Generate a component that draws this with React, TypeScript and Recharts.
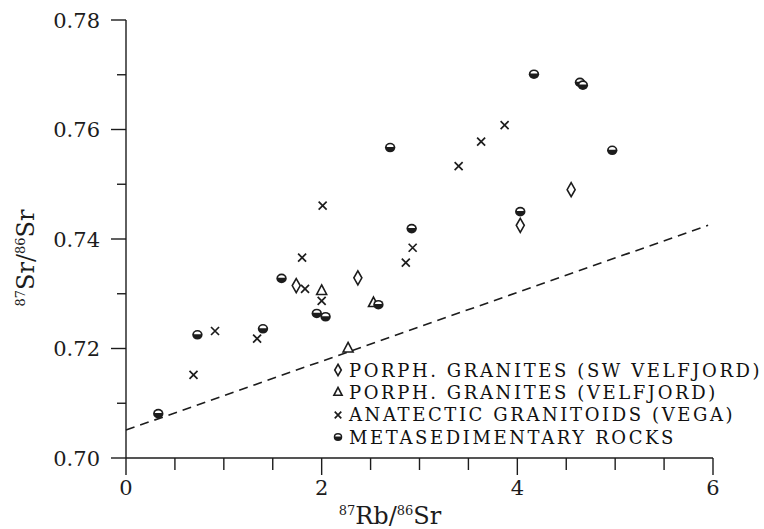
import React from "react";
import { ScatterChart, Scatter, XAxis, YAxis, ReferenceLine, Legend, Label } from "recharts";

const INK = "#1c1c1c";

// 87Rb/86Sr vs 87Sr/86Sr
const swVelfjordX = [1.74, 2.37, 4.03, 4.55];
const swVelfjordY = [0.7315, 0.7329, 0.7425, 0.749];

const velfjordX = [2.0, 2.27, 2.53];
const velfjordY = [0.7306, 0.7201, 0.7284];

const vegaX = [0.69, 0.91, 1.34, 1.8, 1.83, 2.01, 2.0, 2.86, 2.93, 3.4, 3.63, 3.87];
const vegaY = [0.7152, 0.7232, 0.7218, 0.7366, 0.7309, 0.7461, 0.7287, 0.7357, 0.7384, 0.7533, 0.7578, 0.7608];

const metaX = [0.33, 0.73, 1.4, 1.59, 1.95, 2.04, 2.58, 2.7, 2.92, 4.03, 4.17, 4.64, 4.67, 4.97];
const metaY = [0.7081, 0.7225, 0.7236, 0.7328, 0.7264, 0.7258, 0.728, 0.7567, 0.7419, 0.745, 0.7701, 0.7686, 0.7681, 0.7562];

// reference line (dashed)
const refX = [0, 5.95];
const refY = [0.7051, 0.7425];

const xTicks = [0, 0.5, 1, 1.5, 2, 2.5, 3, 3.5, 4, 4.5, 5, 5.5, 6];
const xLabeled = [0, 2, 4, 6];
const yTicks = [0.7, 0.71, 0.72, 0.73, 0.74, 0.75, 0.76, 0.77, 0.78];
const yLabeled = [0.7, 0.72, 0.74, 0.76, 0.78];

const legendNames = [
  "PORPH. GRANITES (SW VELFJORD)",
  "PORPH. GRANITES (VELFJORD)",
  "ANATECTIC GRANITOIDS (VEGA)",
  "METASEDIMENTARY ROCKS",
];

const zip = (xs: number[], ys: number[]) => xs.map((x, i) => ({ x, y: ys[i] }));

const serif = "'DejaVu Serif', serif";

function Diamond({ cx, cy, s = 1 }: any) {
  return (
    <path
      d={`M${cx},${cy - 7 * s} L${cx + 4 * s},${cy} L${cx},${cy + 7 * s} L${cx - 4 * s},${cy} Z`}
      fill="#fff"
      stroke={INK}
      strokeWidth={1.6}
    />
  );
}
function Triangle({ cx, cy, s = 1 }: any) {
  return (
    <path
      d={`M${cx},${cy - 5.5 * s} L${cx + 5 * s},${cy + 4 * s} L${cx - 5 * s},${cy + 4 * s} Z`}
      fill="#fff"
      stroke={INK}
      strokeWidth={1.6}
    />
  );
}
function Cross({ cx, cy, s = 1 }: any) {
  const r = 4 * s;
  return (
    <path d={`M${cx - r},${cy - r} L${cx + r},${cy + r} M${cx - r},${cy + r} L${cx + r},${cy - r}`} stroke={INK} strokeWidth={1.7} />
  );
}
function HalfDot({ cx, cy, s = 1 }: any) {
  return (
    <g>
      <ellipse cx={cx} cy={cy} rx={5.2 * s} ry={4.8 * s} fill={INK} />
      <path
        d={`M${cx - 3.4 * s},${cy - 0.6 * s} A${3.4 * s} ${2.6 * s} 0 0 1 ${cx + 3.4 * s},${cy - 0.6 * s} Z`}
        fill="#fff"
      />
    </g>
  );
}

const shapes = [Diamond, Triangle, Cross, HalfDot];

function XTick({ x, y, payload }: any) {
  const major = xLabeled.includes(payload.value);
  return (
    <g>
      <line x1={x} x2={x} y1={y} y2={y + (major ? 17 : 12)} stroke={INK} strokeWidth={1.4} />
      {major && (
        <text x={x} y={y + 37} textAnchor="middle" fontFamily={serif} fontSize={21} fill={INK}>
          {payload.value}
        </text>
      )}
    </g>
  );
}

function YTick({ x, y, payload }: any) {
  const major = yLabeled.some((v) => Math.abs(v - payload.value) < 1e-6);
  return (
    <g>
      <line x1={x - (major ? 15 : 9)} x2={x} y1={y} y2={y} stroke={INK} strokeWidth={1.4} />
      {major && (
        <text x={x - 26} y={y + 7.5} textAnchor="end" fontFamily={serif} fontSize={21} fill={INK}>
          {payload.value.toFixed(2)}
        </text>
      )}
    </g>
  );
}

function LegendBox() {
  return (
    <div style={{ fontFamily: serif, fontSize: 18, letterSpacing: 2.6, color: "#111" }}>
      {legendNames.map((name, i) => {
        const Shape = shapes[i];
        return (
          <div key={name} style={{ display: "flex", alignItems: "center", height: 22.3, whiteSpace: "nowrap" }}>
            <svg width={20} height={20} style={{ flex: "none" }}>
              <Shape cx={10} cy={10} s={0.82} />
            </svg>
            <span style={{ marginLeft: 1 }}>{name}</span>
          </div>
        );
      })}
    </div>
  );
}

export default function App() {
  const series = [
    zip(swVelfjordX, swVelfjordY),
    zip(velfjordX, velfjordY),
    zip(vegaX, vegaY),
    zip(metaX, metaY),
  ];
  return (
    <div>
      <style>{`body{margin:0;background:#fff}`}</style>
      <ScatterChart width={764} height={529} margin={{ top: 20, right: 51, left: 0, bottom: 0 }}>
        <XAxis
          type="number"
          dataKey="x"
          domain={[0, 6]}
          ticks={xTicks}
          interval={0}
          tickSize={0}
          tickMargin={0}
          tickLine={false}
          tick={<XTick />}
          height={71}
          axisLine={{ stroke: INK, strokeWidth: 1.4 }}
        >
          <Label
            content={() => (
              <text x={390} y={524} textAnchor="middle" fontFamily={serif} fill={INK}>
                <tspan fontSize={13} dy={-9}>87</tspan>
                <tspan fontSize={24} dy={9}>Rb/</tspan>
                <tspan fontSize={13} dy={-9}>86</tspan>
                <tspan fontSize={24} dy={9}>Sr</tspan>
              </text>
            )}
          />
        </XAxis>
        <YAxis
          type="number"
          dataKey="y"
          domain={[0.7, 0.78]}
          ticks={yTicks}
          interval={0}
          tickSize={0}
          tickMargin={0}
          tickLine={false}
          tick={<YTick />}
          width={126}
          axisLine={{ stroke: INK, strokeWidth: 1.4 }}
        >
          <Label
            content={() => (
              <text x={34} y={258} textAnchor="middle" fontFamily={serif} fill={INK} transform="rotate(-90 34 258)">
                <tspan fontSize={13} dy={-9}>87</tspan>
                <tspan fontSize={24} dy={9}>Sr/</tspan>
                <tspan fontSize={13} dy={-9}>86</tspan>
                <tspan fontSize={24} dy={9}>Sr</tspan>
              </text>
            )}
          />
        </YAxis>
        <ReferenceLine
          segment={[
            { x: refX[0], y: refY[0] },
            { x: refX[1], y: refY[1] },
          ]}
          stroke={INK}
          strokeWidth={1.6}
          strokeDasharray="9 6"
        />
        {series.map((data, i) => (
          <Scatter key={legendNames[i]} name={legendNames[i]} data={data} shape={shapes[i]} isAnimationActive={false} />
        ))}
        <Legend
          layout="vertical"
          align="center"
          verticalAlign="middle"
          content={() => <LegendBox />}
          wrapperStyle={{ position: "absolute", left: 328, top: 359, width: "auto" }}
        />
      </ScatterChart>
    </div>
  );
}
